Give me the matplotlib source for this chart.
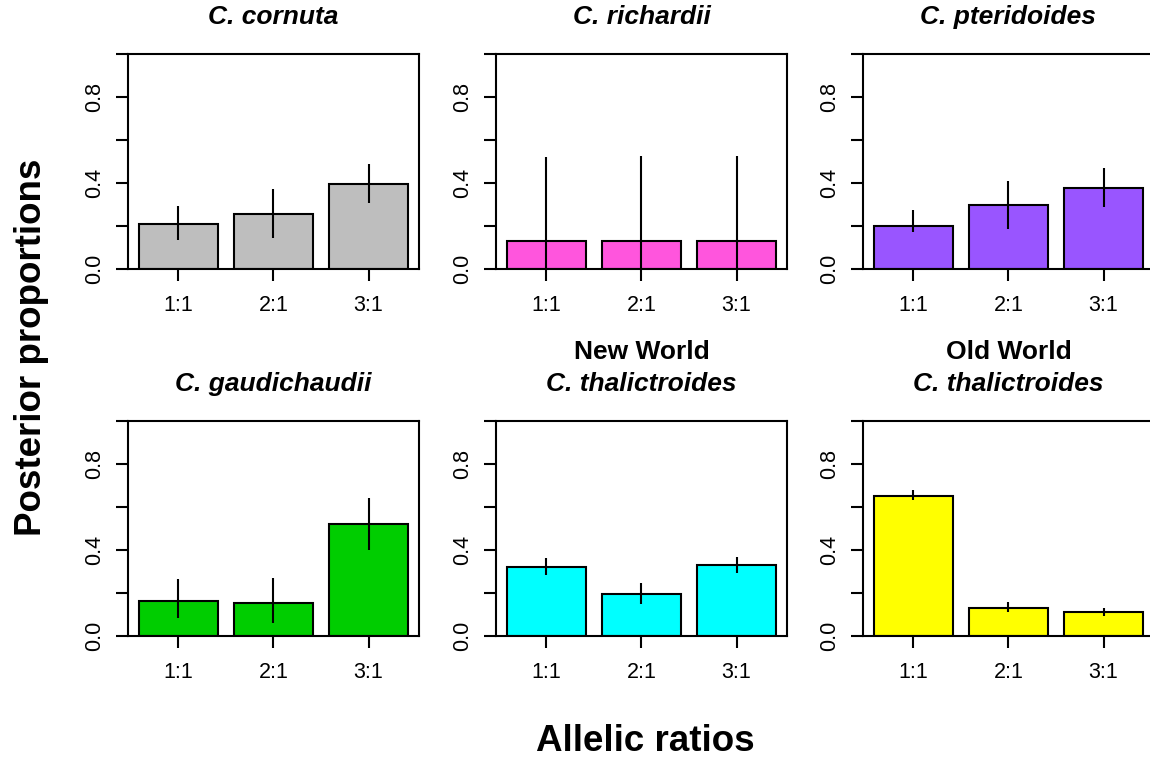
#!/usr/bin/env python3
"""Posterior proportions of allelic ratios per taxon, 2x3 bar panels."""
import matplotlib

matplotlib.use("Agg")
import matplotlib.pyplot as plt

plt.rcParams["font.family"] = ["Liberation Sans", "DejaVu Sans"]

ratios = ["1:1", "2:1", "3:1"]

# (first title line, second title line) -- first line is None for single-line titles
titles = [
    (None, "C. cornuta"),
    (None, "C. richardii"),
    (None, "C. pteridoides"),
    (None, "C. gaudichaudii"),
    ("New World", "C. thalictroides"),
    ("Old World", "C. thalictroides"),
]
colors = ["#BEBEBE", "#FF55DD", "#9955FF", "#00CD00", "#00FFFF", "#FFFF00"]

cornuta = [0.208, 0.257, 0.397]
cornuta_lo = [0.135, 0.143, 0.308]
cornuta_hi = [0.293, 0.372, 0.490]

richardii = [0.128, 0.128, 0.128]
richardii_lo = [0.0, 0.0, 0.0]
richardii_hi = [0.519, 0.527, 0.524]

pteridoides = [0.201, 0.299, 0.375]
pteridoides_lo = [0.171, 0.186, 0.287]
pteridoides_hi = [0.276, 0.411, 0.468]

gaudichaudii = [0.164, 0.152, 0.522]
gaudichaudii_lo = [0.082, 0.062, 0.400]
gaudichaudii_hi = [0.264, 0.268, 0.640]

nw_thal = [0.319, 0.195, 0.330]
nw_thal_lo = [0.284, 0.149, 0.294]
nw_thal_hi = [0.361, 0.245, 0.369]

ow_thal = [0.652, 0.129, 0.110]
ow_thal_lo = [0.632, 0.110, 0.095]
ow_thal_hi = [0.678, 0.156, 0.132]

means = [cornuta, richardii, pteridoides, gaudichaudii, nw_thal, ow_thal]
lows = [cornuta_lo, richardii_lo, pteridoides_lo, gaudichaudii_lo, nw_thal_lo, ow_thal_lo]
highs = [cornuta_hi, richardii_hi, pteridoides_hi, gaudichaudii_hi, nw_thal_hi, ow_thal_hi]

LW = 1.5
fig = plt.figure(figsize=(11.5, 7.61), dpi=100)

col_left = [0.1113, 0.4313, 0.7504]
row_bottom = [0.6465, 0.1643]
w, h = 0.253, 0.2825

# R barplot layout: width 1, space 0.2
centers = [0.7 + 1.2 * i for i in range(len(ratios))]

for k in range(6):
    r, c = divmod(k, 3)
    ax = fig.add_axes([col_left[c], row_bottom[r], w, h])
    ax.bar(centers, means[k], width=1.0, color=colors[k], edgecolor="black",
           linewidth=LW, zorder=2)
    ax.vlines(centers, lows[k], highs[k], color="black", linewidth=LW, zorder=3)
    ax.set_xlim(0.064, 3.736)
    ax.set_ylim(0, 1)
    ax.set_xticks(centers)
    ax.set_xticklabels(ratios)
    ax.set_yticks([0, 0.2, 0.4, 0.6, 0.8, 1.0])
    ax.set_yticklabels(["0.0", "", "0.4", "", "0.8", ""], rotation=90, va="center")
    ax.tick_params(length=8.6, width=LW, labelsize=15.5, color="black")
    ax.tick_params(axis="y", pad=8)
    ax.tick_params(axis="x", pad=10)
    for s in ax.spines.values():
        s.set_linewidth(LW)

    line1, line2 = titles[k]
    ax.text(0.5, 1.172, line2, transform=ax.transAxes, ha="center", va="center",
            fontsize=19, fontweight="bold", fontstyle="italic")
    if line1:
        ax.text(0.5, 1.321, line1, transform=ax.transAxes, ha="center", va="center",
                fontsize=19, fontweight="bold")

fig.text(0.027, 0.544, "Posterior proportions", rotation=90, ha="center", va="center",
         fontsize=26.5, fontweight="bold")
fig.text(0.561, 0.025, "Allelic ratios", ha="center", va="center",
         fontsize=26.5, fontweight="bold")

fig.savefig("out.png", dpi=100)
